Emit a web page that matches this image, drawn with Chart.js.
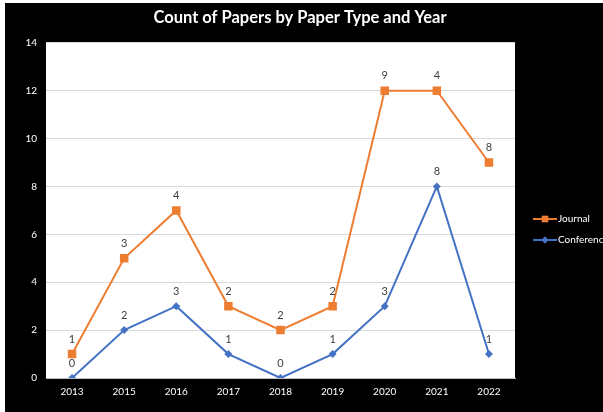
<!DOCTYPE html>
<html>
<head>
<meta charset="utf-8">
<script src="https://cdn.jsdelivr.net/npm/chart.js@4.4.0/dist/chart.umd.min.js"></script>
<style>
  html, body { margin: 0; padding: 0; background: #ffffff; overflow: hidden; }
  #wrap { position: absolute; left: 5px; top: 3px; width: 598px; height: 409px; background: #000000; }
  canvas { display: block; }
</style>
</head>
<body>
<div id="wrap"><canvas id="c" width="598" height="409"></canvas></div>
<script>
// Data
const years = ['2013', '2015', '2016', '2017', '2018', '2019', '2020', '2021', '2022'];
const journal = [1, 3, 4, 2, 2, 2, 9, 4, 8];
const conference = [0, 2, 3, 1, 0, 1, 3, 8, 1];
const seriesNames = ['Journal', 'Conference'];
const yTicks = [0, 2, 4, 6, 8, 10, 12, 14];

const ORANGE = '#ED7D31';
const BLUE = '#4472C4';
const FONT = 'Lato, "Open Sans", sans-serif';

const plotBg = {
  id: 'plotBg',
  beforeDraw(chart) {
    const { ctx, chartArea: a } = chart;
    ctx.save();
    ctx.fillStyle = '#ffffff';
    ctx.fillRect(a.left, a.top, a.right - a.left, a.bottom - a.top);
    ctx.restore();
  }
};

const dataLabels = {
  id: 'dataLabels',
  afterDatasetsDraw(chart) {
    const { ctx } = chart;
    ctx.save();
    ctx.font = '11px ' + FONT;
    ctx.fillStyle = '#404040';
    ctx.textAlign = 'center';
    ctx.textBaseline = 'middle';
    chart.data.datasets.forEach((ds, i) => {
      const meta = chart.getDatasetMeta(i);
      meta.data.forEach((pt, j) => {
        ctx.fillText(String(ds.data[j]), pt.x, pt.y - 15);
      });
    });
    ctx.restore();
  }
};

const customLegend = {
  id: 'customLegend',
  afterDraw(chart) {
    const { ctx } = chart;
    const items = [
      { label: seriesNames[0], color: ORANGE, style: 'rect', y: 216 },
      { label: seriesNames[1], color: BLUE, style: 'rectRot', y: 237 }
    ];
    ctx.save();
    items.forEach(it => {
      ctx.strokeStyle = it.color;
      ctx.lineWidth = 2;
      ctx.beginPath();
      ctx.moveTo(528, it.y);
      ctx.lineTo(552, it.y);
      ctx.stroke();
      ctx.fillStyle = it.color;
      Chart.helpers.drawPoint(ctx, { pointStyle: it.style, radius: it.style === 'rect' ? 4.5 : 3.5, borderWidth: 0 }, 540, it.y);
      ctx.fill();
      ctx.fillStyle = '#ffffff';
      ctx.font = '10px ' + FONT;
      ctx.textAlign = 'left';
      ctx.textBaseline = 'middle';
      ctx.fillText(it.label, 553, it.y);
    });
    ctx.restore();
  }
};

new Chart(document.getElementById('c'), {
  type: 'line',
  data: {
    labels: years,
    datasets: [
      {
        label: seriesNames[1],
        data: conference,
        borderColor: BLUE,
        backgroundColor: BLUE,
        borderWidth: 2,
        pointStyle: 'rectRot',
        pointRadius: 4,
        pointBorderWidth: 0,
        tension: 0,
        fill: false
      },
      {
        label: seriesNames[0],
        data: journal,
        borderColor: ORANGE,
        backgroundColor: ORANGE,
        borderWidth: 2,
        pointStyle: 'rect',
        pointRadius: 6,
        pointBorderWidth: 0,
        tension: 0,
        fill: false
      }
    ]
  },
  options: {
    responsive: false,
    animation: false,
    layout: { padding: { left: 0, right: 8, top: 0, bottom: 0 } },
    plugins: {
      legend: { display: false },
      tooltip: { enabled: false },
      title: {
        display: true,
        text: 'Count of Papers by Paper Type and Year',
        color: '#ffffff',
        font: { family: FONT, size: 16.5, weight: 'bold' },
        padding: { top: 5, bottom: 15 }
      }
    },
    scales: {
      x: {
        offset: true,
        grid: { display: false, drawTicks: false },
        border: { display: true, color: '#bfbfbf', width: 1 },
        ticks: { color: '#ffffff', font: { family: FONT, size: 10 }, padding: 8, maxRotation: 0 },
        afterFit(s) { s.height = 34; }
      },
      y: {
        stacked: true,
        min: 0,
        max: 14,
        afterBuildTicks(s) { s.ticks = yTicks.map(v => ({ value: v })); },
        grid: { color: '#d9d9d9', drawTicks: false, lineWidth: 1 },
        border: { display: false },
        ticks: { color: '#ffffff', font: { family: FONT, size: 10 }, padding: 9 },
        afterFit(s) { s.width = 41; }
      },
      yRight: {
        position: 'right',
        display: true,
        min: 0,
        max: 14,
        grid: { display: false, drawTicks: false },
        border: { display: false },
        ticks: { display: false },
        afterFit(s) { s.width = 80; }
      }
    }
  },
  plugins: [plotBg, dataLabels, customLegend]
});
</script>
</body>
</html>
